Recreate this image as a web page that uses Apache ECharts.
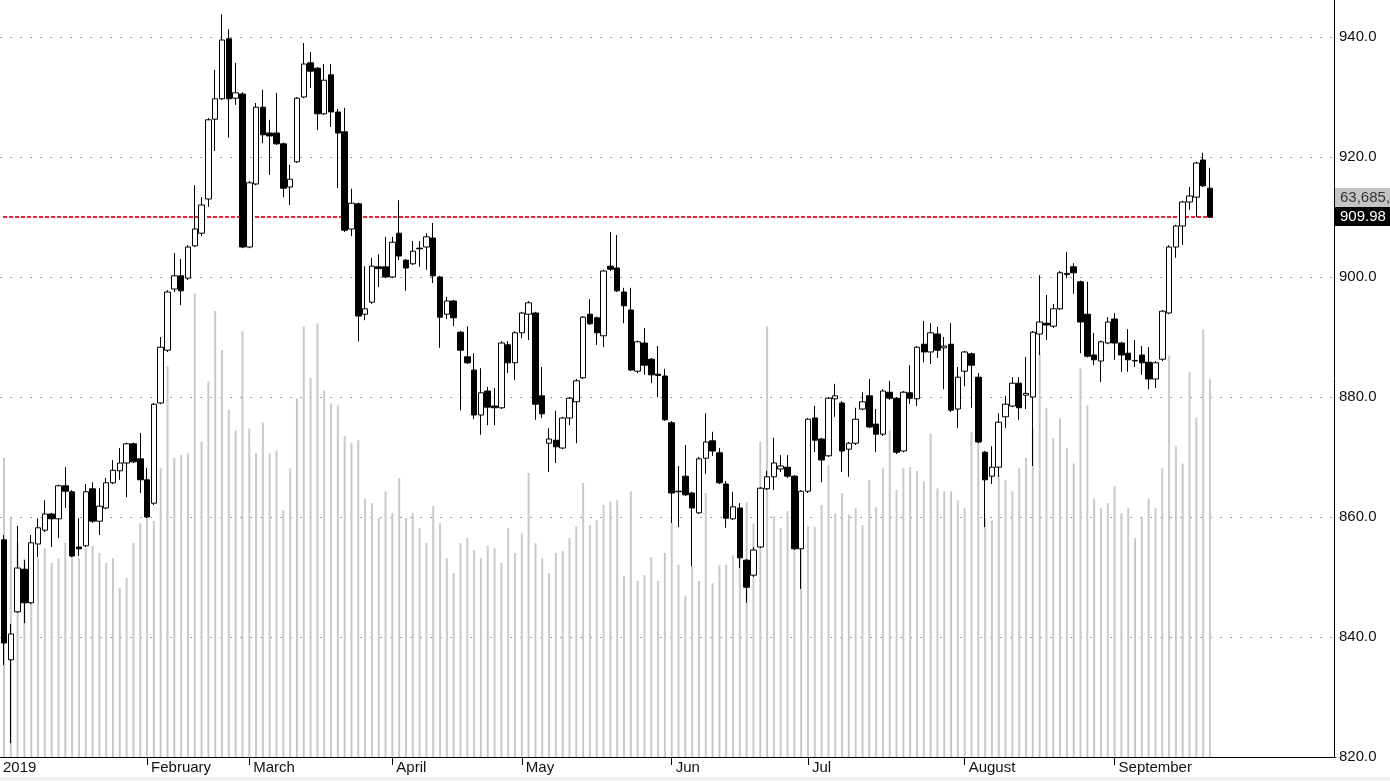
<!DOCTYPE html>
<html><head><meta charset="utf-8">
<script src="https://cdn.jsdelivr.net/npm/echarts@6/dist/echarts.min.js"></script>
<style>html,body{margin:0;padding:0;background:#fff;overflow:hidden}#c{width:1390px;height:781px}</style>
</head><body><div id="c"></div>
<script>
// ---- data ----
const monthLabels = ['2019','February','March','April','May','Jun','Jul','August','September'];
const monthDayCounts = [21,15,21,19,22,20,23,22,15];
const opens = [856.2,836.2,844.2,851.3,845.7,855.5,857.8,860.5,859.7,865.2,
864.2,855,855.2,864.7,859.3,861.5,865.7,867.7,869,872.2,
869.7,866.2,862.3,879,887.8,898,900.2,899.8,905.2,907.3,
913,926.3,929.7,939.7,929.8,930.5,905,915.5,928.3,924,
924,922.2,915,919.2,930,935.7,934.8,927.2,933.7,927.5,
924.2,908,912.2,893.8,895.8,901.7,901.7,900,907.3,902.8,
902.2,904.8,905,906.5,900,893.8,896,890.8,886.7,884.5,
877,881,878.5,878.2,888.7,885.7,890.7,893.8,894,880.2,
872.3,872.8,871.5,876.5,879.2,883.2,893.8,893.2,890.2,901.8,
901.5,897.5,894.5,884.3,889,886.3,883.8,883.5,875.7,864.3,
866.8,864,860.7,869.8,872.7,870.7,865.5,859.7,861.5,852.8,
850.3,855,864.7,866.7,868,868.3,866.8,854.7,864.3,876.5,
873,870.2,879.7,879,871.3,872.3,878,880.2,875.5,873.8,
880.8,879.8,871,880.7,879.7,888.8,887.5,890.5,888.2,888.8,
878,884.3,887.2,883.3,870.8,866.8,868.3,876.7,878.5,882.3,
880.3,880,890.5,892.3,891.8,894.7,900.4,901.7,899.2,893.8,
887,886,889,893,889,887.3,886,887,885.8,883,
886.3,894,905,908.5,912.5,913.3,919.5,914.8];
const closes = [839.0,840.5,851.5,845.7,855.7,858.2,860.5,859.7,865.2,864.3,
853.5,854.7,864.2,859.3,861.8,865.7,867.8,869,872.2,869.2,
866.2,860,878.8,888.3,897.5,900.2,897.7,905,908,912,
926.2,929.7,939.5,929.7,930.7,905,915.7,928.3,923.7,923.5,
922.2,914.8,916.3,929.8,935.5,934.3,927.2,932.8,927.5,924,
907.8,912.3,893.5,894.7,901.8,901.4,900,905.8,903.5,901.5,
904.3,904.7,906.7,900.2,893.3,896,893.2,887.8,885.7,877,
880.7,878.3,878.2,889,885.7,890.7,894,895.7,878.8,877.2,
873,871.7,876.5,879.8,882.7,893.3,892.2,890.7,901,901.3,
897.7,895.2,884.5,889.2,885.3,883.7,883.6,876.2,864,864.2,
863.7,861.5,869.7,872.5,871,865.7,859.8,861.7,853.2,848.3,
854.5,864.8,866.7,869,868.5,866.8,854.7,864.3,876.3,872.8,
869.5,879.8,880.2,871,872.3,876.3,879.2,875,873.8,881,
879.8,870.8,880.8,879.8,888.3,887.5,890.7,887.8,888.5,877.8,
883.3,887.5,885.3,872.5,866.2,868.3,875.8,878.8,882.3,878.2,
880.6,890.8,892.5,892,894.7,900.7,900.6,900.7,892.5,886.8,
886.2,889.2,892.5,889,887,886.2,886.1,885.7,883,885.7,
894.3,905,908.5,912.5,913.5,919,915.2,909.98];
const lows = [835.3,822.3,844,842.3,845.5,853.3,857.5,855,856.5,861.5,
853.3,853.5,855,859,857,861.3,865.5,866.2,863.3,869,
864,859.8,862,878.8,887.5,897.5,895.3,899.5,905,906.8,
911.7,921,929.5,923.2,928.7,904.8,904.8,915.3,922.3,917,
922,913.3,912,919,929.8,931.5,924.5,927,925,914.8,
907.5,906.8,889.3,892.8,895.5,898.3,899.8,899.8,902.8,897.7,
902,901.7,901.2,899,888.2,893,891.8,877.8,885.5,876.3,
873.7,875.3,875.3,878,884,882.8,889.8,889.5,876.2,876.5,
867.5,869,871.3,875.3,872.3,883,892,888.7,888.3,901,
897.5,892.3,884.3,884,883.7,882.3,880,876,859,858.3,
863.5,851.8,860.5,867.2,870.2,865.5,858.2,859.5,851.5,845.7,
850,854.8,864.5,864.5,867.5,866.5,854.5,848,864,870.8,
865.8,870,876.7,867.5,866.7,872,877.8,874.8,870.8,873.5,
879.5,870.5,870.8,878.8,878.5,885.8,885.5,886.5,881.3,877.5,
874.8,881.8,878.2,872.3,858.3,865.5,866.7,874.8,878.3,876.2,
878,868.5,887,889.5,891.5,894.5,899.8,897.2,887.3,886.6,
885.3,882.5,888.8,886.2,884.2,884.2,885,883.7,881.3,881.5,
886,893.8,903.2,905.3,911.2,910,915,909.9];
const highs = [857,842.2,858.5,852.8,857,859.8,862.8,860.7,865.4,868.3,
864.5,859.8,865.5,865.8,864.8,866.5,869.5,871.5,872.4,872.4,
874,868.2,879,890,897.8,904,903,905.3,915.3,913.3,
926.5,934.5,943.8,941.3,935.7,930.8,916,929,931.2,926.2,
930.7,922.4,918.7,930,939,937.5,935,935.5,935.5,928,
928.2,914.7,912.4,901.8,903.2,903.8,906.7,906.7,912.8,903,
906,906,907.3,909,900.2,896.7,896.2,891,891.8,887.3,
884.8,881.7,881.5,889.3,889.3,891,894.2,896,894.2,885,
874.8,877.7,876.7,880,883,893.5,896.3,893.4,901.2,907.5,
907,898.2,898.2,889.4,891.5,886.5,888.5,884.7,876,868.5,
872,864.2,870,877.3,874.2,871.5,866,864.2,862.3,853,
855,865,867.7,873.2,870.3,870.3,867,864.5,876.5,878.5,
873.2,880,882.2,879.3,872.5,878.2,880.8,883,878,881.3,
882.7,880,881,885.3,888.5,892.7,892.3,891.7,890,892.3,
885,887.7,887.4,884,871,871.8,877.3,880.2,883.3,883.3,
886.7,891,900.3,897,895.5,901,904.2,902.3,899.4,899.2,
890.7,889.4,893.3,894,889.2,891.3,889.5,888.5,888.3,886,
894.5,905.3,908.7,912.7,915,919.2,920.7,918.2];
// volume, thousands
const volumes = [50.4,40.3,36.1,33.5,34.4,33.5,35.2,32.7,33.5,36.1,
34.4,33.5,35.2,35.6,34.4,32.7,33.5,28.5,30.2,36.1,
39.4,40.3,39.8,48.7,65.9,50.4,50.9,51.2,78.2,53.2,
63.4,75.2,68.6,58.5,55.1,71.8,55.4,51.2,56.4,51.2,
51.7,41.6,48.7,60.5,72.6,63.9,73.1,61.8,59.6,59.3,
54.1,52.9,53.4,43.6,42.8,40.3,44.8,41.1,47.0,40.3,
41.1,38.6,36.1,42.3,39.4,33.5,31.0,36.1,36.9,34.9,
33.5,35.6,35.2,32.7,38.6,34.4,37.7,47.9,36.1,33.5,
31.0,34.4,34.7,36.9,38.9,46.2,39.1,39.9,42.5,43.1,
43.3,30.5,44.8,29.7,30.7,33.7,29.7,34.4,39.4,32.4,
27.1,32.2,29.7,44.5,29.3,32.4,32.4,34.0,35.6,43.0,
39.4,53.2,72.6,40.6,38.6,41.5,38.1,40.3,38.9,38.8,
42.5,49.2,41.1,44.5,40.9,42.0,39.1,46.7,42.1,48.7,
55.1,45.0,48.7,48.9,48.2,46.5,54.6,45.3,44.8,44.8,
43.3,42.0,54.8,53.8,40.3,39.9,47.5,46.7,44.8,48.7,
50.4,55.4,68.1,58.8,53.8,57.1,52.1,49.5,65.5,59.3,
43.6,42.0,42.8,45.7,41.1,42.0,36.9,40.3,43.6,42.0,
48.7,67.7,52.4,49.5,64.9,57.3,72.1,63.7];
const lastVolumeText = '63,685,';
const priceMin = 820, priceStep = 20;

// ---- build ----
const categories = [];
const monthStart = {};
monthLabels.forEach((m, i) => {
  monthStart[categories.length] = m;
  for (let d = 1; d <= monthDayCounts[i]; d++) categories.push(m + ' ' + d);
});
const N = opens.length;
const ohlc = opens.map((o, i) => [o, closes[i], lows[i], highs[i]]);
const lastClose = closes[N - 1];

const FONT = "'Liberation Sans', Arial, sans-serif";
const RED = '#f0203a';
const slot = 6.831, totalSlots = 196, gridH = 757;
const chart = echarts.init(document.getElementById('c'), null, {renderer: 'canvas'});
const isStart = (i) => Object.prototype.hasOwnProperty.call(monthStart, i);

chart.setOption({
  animation: false,
  backgroundColor: '#ffffff',
  grid: {left: 0.55 - slot / 2, top: 0, width: slot * totalSlots, height: gridH},
  xAxis: {
    type: 'category', data: categories, boundaryGap: true, max: totalSlots - 1,
    axisLine: {show: true, lineStyle: {color: '#000', width: 1}},
    axisTick: {show: true, alignWithLabel: true, interval: (i) => isStart(i) && i > 0, length: 8, lineStyle: {color: '#000'}},
    axisLabel: {
      interval: (i) => isStart(i), margin: 3, align: 'left',
      formatter: (v, i) => isStart(i) ? (i === 0 ? '{a|' + monthStart[i] + '}' : '{b|' + monthStart[i] + '}') : '',
      rich: {a: {fontFamily: FONT, fontSize: 15, color: '#111', padding: [0, 0, 0, -1]},
             b: {fontFamily: FONT, fontSize: 15, color: '#111', padding: [0, 0, 0, 4]}}
    },
    splitLine: {show: false}
  },
  yAxis: [{
    type: 'value', position: 'right', min: priceMin, max: priceMin + gridH / 6, interval: priceStep, offset: -2,
    axisLine: {show: true, lineStyle: {color: '#000', width: 1}},
    axisTick: {show: false},
    axisLabel: {formatter: (v) => v.toFixed(1), showMaxLabel: false, color: '#111', fontFamily: FONT, fontSize: 15, margin: 5},
    splitLine: {show: true, showMaxLine: false, lineStyle: {color: '#333', type: [1, 9], width: 1}}
  }, {
    type: 'value', min: 0, max: gridH * 0.1686, show: false,
    axisLine: {show: false}, axisLabel: {show: false}, splitLine: {show: false}
  }],
  series: [{
    type: 'bar', yAxisIndex: 1, data: volumes, barWidth: 2, silent: true, z: 1,
    itemStyle: {color: '#c9c9c9'}
  }, {
    type: 'candlestick', data: ohlc, barWidth: 6, z: 3, silent: true,
    itemStyle: {color: '#ffffff', color0: '#000000', borderColor: '#000000', borderColor0: '#000000', borderWidth: 1}
  }]
});

const yPx = Math.round(chart.convertToPixel({yAxisIndex: 0}, lastClose));
const xStart = chart.convertToPixel({xAxisIndex: 0}, categories[0]);
const xEnd = chart.convertToPixel({xAxisIndex: 0}, categories[N - 1]) + 3;
chart.setOption({
  graphic: [
    {type: 'line', shape: {x1: Math.max(0, xStart - 1), y1: yPx, x2: xEnd, y2: yPx},
     style: {stroke: RED, lineWidth: 2, lineDash: [4, 2]}, z: 2, silent: true},
    {type: 'rect', shape: {x: 1335, y: yPx - 10, width: 60, height: 19}, style: {fill: '#000'}, z: 100},
    {type: 'text', x: 1340, y: yPx, style: {text: lastClose.toFixed(2), fill: '#fff', font: '15px ' + FONT, verticalAlign: 'middle'}, z: 101},
    {type: 'rect', shape: {x: 1335, y: yPx - 29, width: 60, height: 19}, style: {fill: '#c4c4c4'}, z: 100},
    {type: 'text', x: 1340, y: yPx - 19, style: {text: lastVolumeText, fill: '#333', font: '15px ' + FONT, verticalAlign: 'middle'}, z: 101},
    {type: 'rect', shape: {x: 0, y: 777, width: 1390, height: 4}, style: {fill: '#f0f0f0'}, z: 0}
  ]
});
</script></body></html>
